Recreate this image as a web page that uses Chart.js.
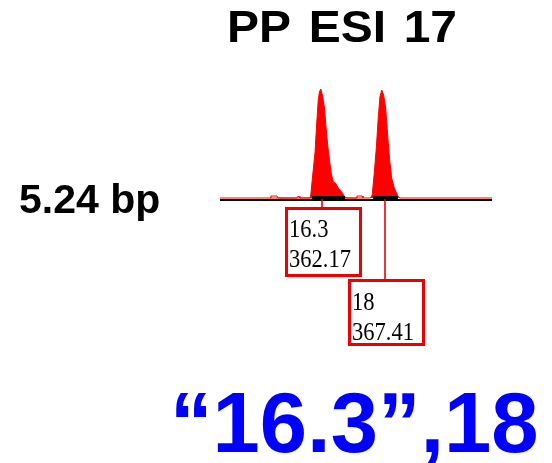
<!DOCTYPE html>
<html>
<head>
<meta charset="utf-8">
<script src="https://cdn.jsdelivr.net/npm/chart.js@4.4.1/dist/chart.umd.min.js"></script>
<style>
  html, body { margin: 0; padding: 0; background: #ffffff; }
  #wrap { width: 552px; height: 463px; position: relative; }
</style>
</head>
<body>
<div id="wrap"><canvas id="c" width="552" height="463"></canvas></div>
<script>
// ---- data ----
const titleText = "PP ESI 17";
const offsetText = "5.24 bp";
const genotypeText = "\u201C16.3\u201D,18";

// size axis (bp) shown in the window
const sizeMin = 353.69;
const sizeMax = 376.31;

// trace: size (bp) and signal height (relative RFU)
const traceSizes = [
  353.69, 361.17, 361.24, 361.40, 361.59, 361.74, 361.86, 361.96, 362.07, 362.21,
  362.38, 362.56, 362.74, 362.94, 363.11, 363.29, 363.53, 363.81, 364.08, 364.25,
  366.20, 366.35, 366.52, 366.69, 366.85, 366.99, 367.14, 367.30, 367.47, 367.63,
  367.80, 367.97, 368.16, 368.37, 368.53, 368.66, 376.31
];
const traceHeights = [
  0, 0, 30, 230, 450, 760, 980, 1060, 1090, 1030,
  900, 630, 430, 250, 160, 150, 100, 60, 10, 0,
  0, 30, 250, 500, 800, 1010, 1080, 1030, 900, 630,
  380, 200, 110, 50, 10, 0, 0
];

// small baseline noise blips (outline only)
const noiseSizes = [357.85, 357.93, 358.43, 358.51, 360.09, 360.15, 360.28, 360.34, 365.00, 365.08, 365.50, 365.58];
const noiseHeights = [0, 20, 20, 0, 0, 15, 15, 0, 0, 20, 20, 0];

// allele bins (bp)
const binStarts = [361.34, 366.43];
const binEnds = [364.08, 368.49];

// called alleles
const alleleNames = ["16.3", "18"];
const alleleSizes = [362.17, 367.41];
const alleleSizeLabels = ["362.17", "367.41"];

// ---- build datasets ----
const tracePts = traceSizes.map((s, i) => ({ x: s, y: traceHeights[i] }));
const noisePts = noiseSizes.map((s, i) => ({ x: s, y: noiseHeights[i] }));

const decorPlugin = {
  id: 'decor',
  afterDatasetsDraw(chart) {
    const ctx = chart.ctx;
    const xs = chart.scales.x;
    const area = chart.chartArea;
    ctx.save();
    // axis line
    ctx.fillStyle = '#000000';
    ctx.fillRect(area.left, area.bottom + 1, area.right - area.left, 2);
    // bins
    for (let i = 0; i < binStarts.length; i++) {
      const x1 = xs.getPixelForValue(binStarts[i]);
      const x2 = xs.getPixelForValue(binEnds[i]);
      ctx.fillRect(x1, area.bottom - 2, x2 - x1, 4);
    }
    // allele label boxes
    const boxTops = [207, 279];
    const boxHeights = [70, 67];
    for (let i = 0; i < alleleSizes.length; i++) {
      const cx = Math.round(xs.getPixelForValue(alleleSizes[i]));
      const top = boxTops[i];
      const h = boxHeights[i];
      const left = cx - 37;
      const w = 77;
      ctx.strokeStyle = '#ee0000';
      ctx.lineWidth = 1.6;
      ctx.beginPath();
      ctx.moveTo(cx, area.bottom + 1);
      ctx.lineTo(cx, top);
      ctx.stroke();
      ctx.lineWidth = 3;
      ctx.strokeRect(left + 1.5, top + 1.5, w - 3, h - 3);
      // text
      ctx.fillStyle = '#000000';
      ctx.font = '26px "Liberation Serif", "Times New Roman", serif';
      ctx.textBaseline = 'alphabetic';
      ctx.textAlign = 'left';
      const wRef = ctx.measureText('362.17').width;
      const sx = 62 / wRef;
      const lines = [alleleNames[i], alleleSizeLabels[i]];
      const baselines = i === 0 ? [top + 30, top + 60] : [top + 31, top + 61];
      for (let k = 0; k < 2; k++) {
        ctx.save();
        ctx.translate(left + 4, baselines[k]);
        ctx.scale(sx, 1);
        ctx.fillText(lines[k], 0, 0);
        ctx.restore();
      }
    }
    // titles
    ctx.fillStyle = '#000000';
    ctx.textAlign = 'left';
    ctx.font = 'bold 44px "Liberation Sans", Arial, sans-serif';
    try { ctx.wordSpacing = '4px'; } catch (e) {}
    const tw = ctx.measureText(titleText).width;
    const tsx = 230 / tw;
    ctx.save();
    ctx.translate(227, 42);
    ctx.scale(tsx, 1);
    ctx.fillText(titleText, 0, 0);
    ctx.restore();
    try { ctx.wordSpacing = '0px'; } catch (e) {}
    ctx.font = 'bold 41px "Liberation Sans", Arial, sans-serif';
    ctx.fillText(offsetText, 19, 213);
    ctx.fillStyle = '#0000ff';
    ctx.font = 'bold 85px "Liberation Sans", Arial, sans-serif';
    ctx.fillText(genotypeText, 170, 452);
    ctx.restore();
  }
};

new Chart(document.getElementById('c'), {
  type: 'line',
  data: {
    datasets: [
      {
        label: 'trace',
        data: tracePts,
        borderColor: '#ff0000',
        backgroundColor: '#ff0000',
        borderWidth: 1,
        fill: 'origin',
        pointRadius: 0,
        tension: 0,
        clip: false,
        order: 2
      },
      {
        label: 'noise',
        data: noisePts,
        borderColor: '#ff0000',
        backgroundColor: 'rgba(0,0,0,0)',
        borderWidth: 1,
        fill: false,
        pointRadius: 0,
        clip: false,
        order: 1
      }
    ]
  },
  options: {
    responsive: false,
    animation: false,
    devicePixelRatio: 1,
    layout: { padding: { left: 220, right: 60, top: 88, bottom: 265 } },
    plugins: { legend: { display: false }, tooltip: { enabled: false }, title: { display: false } },
    scales: {
      x: { type: 'linear', min: sizeMin, max: sizeMax, display: false },
      y: { min: 0, max: 1100, display: false }
    }
  },
  plugins: [decorPlugin]
});
</script>
</body>
</html>
